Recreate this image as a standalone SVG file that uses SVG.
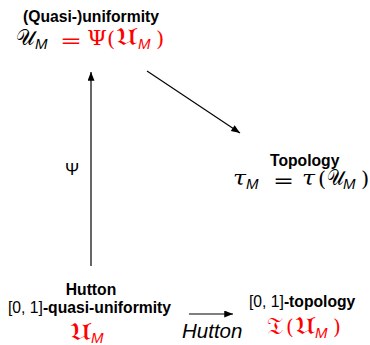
<svg xmlns="http://www.w3.org/2000/svg" width="370" height="345" viewBox="0 0 370 345">
<style>
.lbl{font-family:"Liberation Sans",Arial,sans-serif;font-size:15.7px;fill:#000}
.b{font-weight:bold}
.m{font-family:"DejaVu Serif","Liberation Serif",serif;fill:#000;font-size:21px}
.eq{font-family:"DejaVu Sans",sans-serif;font-size:20px}
.fr{font-size:24px}
.sc{font-size:22px}
.r{fill:#ff0000}
.sub{font-family:"Liberation Sans",Arial,sans-serif;font-style:italic;font-size:15px}
.tau{font-style:italic}
.it{font-family:"Liberation Sans",Arial,sans-serif;font-style:italic;font-size:20.5px;fill:#000}
.edge{stroke:#000;stroke-width:1.2;fill:none;marker-end:url(#ah)}
</style>
<defs>
<marker id="ah" viewBox="0 0 10 8" refX="10" refY="4" markerWidth="10" markerHeight="7" markerUnits="userSpaceOnUse" orient="auto">
<path d="M0,0 L10,4 L0,8 z" fill="#000"/>
</marker>
</defs>
<g id="connectors">
<line class="edge" x1="91" y1="266" x2="91" y2="72"/>
<line class="edge" x1="147" y1="71" x2="240" y2="133"/>
<line class="edge" x1="189" y1="314" x2="233" y2="314"/>
<text class="lbl" x="65" y="175" style="font-size:17px">Ψ</text>
<text class="it" x="182" y="338">Hutton</text>
</g>
<g id="uniformity">
<text class="lbl b" x="23" y="22">(Quasi-)uniformity</text>
<text class="m sc" x="16" y="45" textLength="19" lengthAdjust="spacingAndGlyphs">𝒰</text>
<text class="sub" x="35" y="49">M</text>
<text class="eq r" x="60" y="47" textLength="22" lengthAdjust="spacingAndGlyphs">=</text>
<text class="m r" x="87" y="45" textLength="20" lengthAdjust="spacingAndGlyphs">Ψ</text>
<text class="m r" x="107" y="46">(</text>
<text class="m fr r" x="116" y="45" textLength="21" lengthAdjust="spacingAndGlyphs">𝔘</text>
<text class="sub r" x="138" y="49">M</text>
<text class="m r" x="156" y="46">)</text>
</g>
<g id="topology">
<text class="lbl b" x="270" y="166">Topology</text>
<text class="m tau" x="233" y="185" textLength="13" lengthAdjust="spacingAndGlyphs">τ</text>
<text class="sub" x="246" y="189">M</text>
<text class="eq" x="273" y="187" textLength="21" lengthAdjust="spacingAndGlyphs">=</text>
<text class="m tau" x="302" y="185" textLength="13" lengthAdjust="spacingAndGlyphs">τ</text>
<text class="m" x="318" y="186">(</text>
<text class="m sc" x="327" y="185" textLength="17" lengthAdjust="spacingAndGlyphs">𝒰</text>
<text class="sub" x="343" y="189">M</text>
<text class="m" x="361" y="186">)</text>
</g>
<g id="hutton-uniformity">
<text class="lbl b" x="91" y="295" text-anchor="middle">Hutton</text>
<text class="lbl" x="8" y="313">[0, 1]<tspan class="b">-quasi-uniformity</tspan></text>
<text class="m fr r" x="70" y="340" textLength="21" lengthAdjust="spacingAndGlyphs">𝔘</text>
<text class="sub r" x="91" y="343">M</text>
</g>
<g id="hutton-topology">
<text class="lbl" x="249" y="307">[0, 1]<tspan class="b">-topology</tspan></text>
<text class="m fr r" x="267" y="334" textLength="16" lengthAdjust="spacingAndGlyphs">𝔗</text>
<text class="m r" x="286" y="334" style="font-size:20px">(</text>
<text class="m fr r" x="295" y="334" textLength="20" lengthAdjust="spacingAndGlyphs">𝔘</text>
<text class="sub r" x="315" y="338">M</text>
<text class="m r" x="333" y="334" style="font-size:20px">)</text>
</g>
</svg>
